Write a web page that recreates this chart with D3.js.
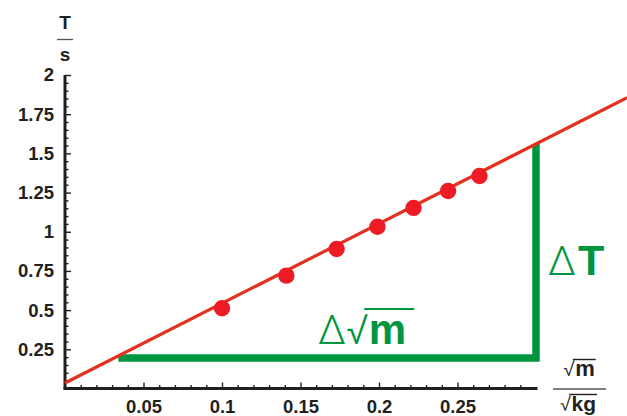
<!DOCTYPE html>
<html>
<head>
<meta charset="utf-8">
<script src="https://cdn.jsdelivr.net/npm/d3@7"></script>
<style>
  html, body { margin: 0; padding: 0; background: #fff; }
  svg { display: block; }
  text { font-family: "Liberation Sans", Arial, sans-serif; }
</style>
</head>
<body>
<svg id="chart" width="627" height="416"></svg>
<script>
// Pendulum-spring data: square root of mass (√kg) vs. period T (s)
const sqrtMass = [0.1, 0.141, 0.173, 0.199, 0.222, 0.244, 0.264];
const period   = [0.512, 0.72, 0.89, 1.032, 1.152, 1.26, 1.356];

// Best-fit line through the points, given by its two end points
const fitLine = [[0, 0.035], [0.358, 1.855]];

// Slope triangle: horizontal leg then vertical leg up to the fit line
const slopeTriangle = [[0.034, 0.195], [0.3, 0.195], [0.3, 1.56]];

// Axis ticks
const xMajorTicks = [0.05, 0.1, 0.15, 0.2, 0.25];
const xMajorLabels = ["0.05", "0.1", "0.15", "0.2", "0.25"];
const xMinorTicks = [0.01, 0.02, 0.03, 0.04, 0.06, 0.07, 0.08, 0.09, 0.11, 0.12, 0.13, 0.14,
                     0.16, 0.17, 0.18, 0.19, 0.21, 0.22, 0.23, 0.24, 0.26, 0.27, 0.28, 0.29];
const yMajorTicks = [0.25, 0.5, 0.75, 1, 1.25, 1.5, 1.75, 2];
const yMajorLabels = ["0.25", "0.5", "0.75", "1", "1.25", "1.5", "1.75", "2"];
const yMinorTicks = [0.05, 0.1, 0.15, 0.2, 0.3, 0.35, 0.4, 0.45, 0.55, 0.6, 0.65, 0.7,
                     0.8, 0.85, 0.9, 0.95, 1.05, 1.1, 1.15, 1.2, 1.3, 1.35, 1.4, 1.45,
                     1.55, 1.6, 1.65, 1.7, 1.8, 1.85, 1.9, 1.95];

const INK = "#231f20";
const RED_LINE = "#e4311f";
const RED_DOT = "#ed1c24";
const GREEN = "#00963f";
const SANS = "'Liberation Sans', Arial, sans-serif";
const THIN = "Roboto, 'Liberation Sans', sans-serif";

const svg = d3.select("#chart");

const x = d3.scaleLinear().domain([0, 0.3]).range([65, 536]);
const y = d3.scaleLinear().domain([0, 2]).range([388.5, 75]);

// ---- axes ----
function styleAxis(g) {
  g.select(".domain").remove();
  g.selectAll(".tick line").attr("stroke", INK).attr("stroke-width", 1.4);
  g.selectAll(".tick text")
    .attr("fill", INK)
    .style("font-family", SANS)
    .style("font-weight", "bold")
    .style("font-size", "18.5px");
}

// x axis: minor then major ticks pointing up into the plot
svg.append("g").attr("transform", `translate(0,${y(0)})`)
  .call(d3.axisBottom(x).tickValues(xMinorTicks).tickSize(-3.5).tickFormat(""))
  .call(styleAxis);
svg.append("g").attr("transform", `translate(0,${y(0)})`)
  .call(d3.axisBottom(x).tickValues(xMajorTicks).tickSize(-6).tickPadding(11.5)
        .tickFormat((d, i) => xMajorLabels[i]))
  .call(styleAxis);

// y axis: ticks pointing right into the plot
svg.append("g").attr("transform", `translate(${x(0)},0)`)
  .call(d3.axisLeft(y).tickValues(yMinorTicks).tickSize(-3.5).tickFormat(""))
  .call(styleAxis);
svg.append("g").attr("transform", `translate(${x(0)},0)`)
  .call(d3.axisLeft(y).tickValues(yMajorTicks).tickSize(-6).tickPadding(11)
        .tickFormat((d, i) => yMajorLabels[i]))
  .call(styleAxis);

// axis lines
svg.append("line")
  .attr("x1", x(0)).attr("x2", x(0.3))
  .attr("y1", y(0)).attr("y2", y(0))
  .attr("stroke", INK).attr("stroke-width", 3).attr("stroke-linecap", "square");
svg.append("line")
  .attr("x1", x(0)).attr("x2", x(0))
  .attr("y1", y(0)).attr("y2", y(2))
  .attr("stroke", INK).attr("stroke-width", 3);

// ---- slope triangle ----
svg.append("path")
  .attr("d", d3.line().x(d => x(d[0])).y(d => y(d[1]))(slopeTriangle))
  .attr("fill", "none")
  .attr("stroke", GREEN)
  .attr("stroke-width", 7.5)
  .attr("stroke-linejoin", "miter");

// ---- fit line ----
svg.append("path")
  .attr("d", d3.line().x(d => x(d[0])).y(d => y(d[1]))(fitLine))
  .attr("fill", "none")
  .attr("stroke", RED_LINE)
  .attr("stroke-width", 3.2);

// ---- data points ----
svg.append("g").selectAll("circle")
  .data(sqrtMass.map((m, i) => [m, period[i]]))
  .join("circle")
  .attr("cx", d => x(d[0]))
  .attr("cy", d => y(d[1]))
  .attr("r", 8.2)
  .attr("fill", RED_DOT);

// ---- helper: write a run of text pieces side by side ----
function textRun(g, x0, baseline, pieces, color) {
  let cx = x0;
  const placed = [];
  pieces.forEach(p => {
    const t = g.append("text")
      .attr("x", cx).attr("y", baseline)
      .attr("fill", color)
      .style("font-size", p.size + "px")
      .style("font-weight", p.weight || "normal")
      .style("font-family", p.family || SANS)
      .text(p.text);
    const w = t.node().getComputedTextLength();
    placed.push({ x: cx, w: w, p: p });
    cx += w + (p.gap || 0);
  });
  return placed;
}

// √radicand with an overline, centred on cx
function radicalLabel(g, cx, baseline, radicand, size, color, overY, lw) {
  const tmp = g.append("g");
  const placed = textRun(tmp, 0, baseline, [
    { text: "√", size: size, weight: 300, family: THIN, gap: 0 },
    { text: radicand, size: size, weight: "bold" }
  ], color);
  const total = placed[1].x + placed[1].w;
  tmp.attr("transform", `translate(${cx - total / 2},0)`);
  tmp.append("line")
    .attr("x1", placed[0].x + placed[0].w * 0.8).attr("x2", total + 1)
    .attr("y1", overY).attr("y2", overY)
    .attr("stroke", color).attr("stroke-width", lw);
}

// ---- axis titles as fractions ----
const yTitle = svg.append("g");
yTitle.append("text").attr("x", 65).attr("y", 28.5).attr("text-anchor", "middle")
  .attr("fill", INK).style("font-size", "19px").style("font-weight", "bold").text("T");
yTitle.append("line").attr("x1", 57).attr("x2", 73).attr("y1", 39.5).attr("y2", 39.5)
  .attr("stroke", "#555").attr("stroke-width", 1.3);
yTitle.append("text").attr("x", 65).attr("y", 61).attr("text-anchor", "middle")
  .attr("fill", INK).style("font-size", "19px").style("font-weight", "bold").text("s");

const xTitle = svg.append("g");
radicalLabel(xTitle, 579, 376, "m", 22, INK, 359.5, 1.4);
xTitle.append("line").attr("x1", 553).attr("x2", 606).attr("y1", 389).attr("y2", 389)
  .attr("stroke", "#555").attr("stroke-width", 1.3);
radicalLabel(xTitle, 578, 410.5, "kg", 21, INK, 394.5, 1.4);

// ---- slope triangle labels ----
const dT = svg.append("g");
textRun(dT, 548, 275, [
  { text: "Δ", size: 40, weight: 300, family: THIN, gap: 2 },
  { text: "T", size: 43, weight: "bold" }
], GREEN);

const dM = svg.append("g");
const pm = textRun(dM, 318, 344, [
  { text: "Δ", size: 40, weight: 300, family: THIN, gap: 0 },
  { text: "√", size: 42, weight: 300, family: THIN, gap: 0 },
  { text: "m", size: 42, weight: "bold" }
], GREEN);
dM.append("line")
  .attr("x1", pm[1].x + pm[1].w * 0.8).attr("x2", pm[2].x + pm[2].w + 8)
  .attr("y1", 309).attr("y2", 309)
  .attr("stroke", GREEN).attr("stroke-width", 2);
</script>
</body>
</html>
